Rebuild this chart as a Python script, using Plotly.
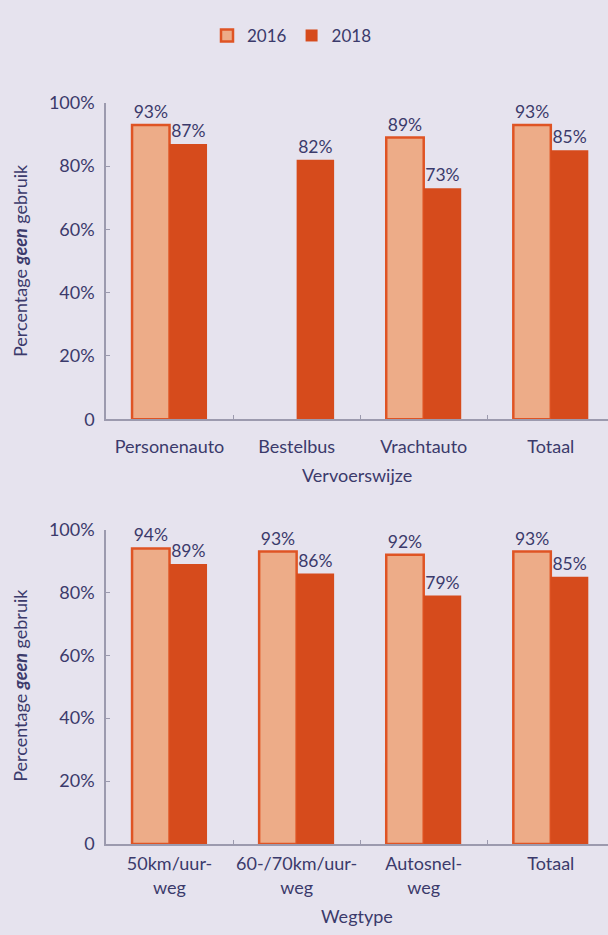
import plotly.graph_objects as go

# Data
vervoer_cats = ["Personenauto", "Bestelbus", "Vrachtauto", "Totaal"]
vervoer_2016 = [93, None, 89, 93]
vervoer_2018 = [87, 82, 73, 85]

weg_cats = ["50km/uur-<br>weg", "60-/70km/uur-<br>weg", "Autosnel-<br>weg", "Totaal"]
weg_2016 = [94, 93, 92, 93]
weg_2018 = [89, 86, 79, 85]

y_tickvals = [0, 20, 40, 60, 80, 100]
y_ticktext = ["0", "20%", "40%", "60%", "80%", "100%"]

BG = "#e6e3ee"
NAVY = "#3b3a6b"
C16 = "#edac88"
C16_LINE = "#df5424"
C18 = "#d64b1c"
AXIS = "#9c9aae"
FONT = "Lato"
FS = 18

W, H = 608, 935

def py(px):
    return 1 - px / H

fig = go.Figure()

def labels(vals):
    return [f"{v}%" if v is not None else "" for v in vals]

for cats, v16, v18, xa, ya, show in [
    (vervoer_cats, vervoer_2016, vervoer_2018, "x", "y", True),
    (weg_cats, weg_2016, weg_2018, "x2", "y2", False),
]:
    fig.add_trace(go.Bar(
        x=cats, y=v16, name="2016", xaxis=xa, yaxis=ya,
        marker=dict(color=C16, line=dict(color=C16_LINE, width=2.5)),
        text=labels(v16), textposition="outside", cliponaxis=False,
        textfont=dict(color=NAVY, size=17.5, family=FONT),
        showlegend=show, legendgroup="2016",
    ))
    fig.add_trace(go.Bar(
        x=cats, y=v18, name="2018", xaxis=xa, yaxis=ya,
        marker=dict(color=C18, line=dict(color=C18, width=0)),
        text=labels(v18), textposition="outside", cliponaxis=False,
        textfont=dict(color=NAVY, size=17.5, family=FONT),
        showlegend=show, legendgroup="2018",
    ))

xcommon = dict(
    domain=[106 / W, 1.0], range=[-0.5, 3.45], type="category",
    showline=True, linecolor=AXIS, linewidth=1.5,
    ticks="inside", tickson="boundaries", ticklen=4, tickcolor=AXIS,
    tickfont=dict(color=NAVY, size=FS, family=FONT), tickangle=0,
    showgrid=False, zeroline=False, fixedrange=True,
)
ycommon = dict(
    range=[0, 100], showline=True, linecolor=AXIS, linewidth=1.5,
    ticks="inside", ticklen=4, tickcolor=AXIS,
    tickvals=y_tickvals, ticktext=y_ticktext,
    tickfont=dict(color=NAVY, size=FS, family=FONT),
    showgrid=False, zeroline=False, ticklabelstandoff=6, fixedrange=True,
)

fig.update_layout(
    width=W, height=H,
    paper_bgcolor=BG, plot_bgcolor=BG,
    margin=dict(l=0, r=0, t=0, b=0),
    barmode="group", bargap=0.41, bargroupgap=0,
    font=dict(family=FONT, color=NAVY, size=FS),
    xaxis=dict(**xcommon, anchor="y", ticklabelstandoff=10),
    yaxis=dict(**ycommon, domain=[py(417), py(93)], anchor="x"),
    xaxis2=dict(**xcommon, anchor="y2", ticklabelstandoff=3),
    yaxis2=dict(**ycommon, domain=[py(852), py(530)], anchor="x2"),
    legend=dict(orientation="h", x=292 / W, xanchor="center", y=py(24.5), yanchor="middle",
                font=dict(color=NAVY, size=17, family=FONT), bgcolor="rgba(0,0,0,0)",
                itemwidth=30, traceorder="normal"),
    showlegend=True,
    annotations=[
        dict(text="Vervoerswijze", x=(106 + 608) / 2 / W, y=py(474), xref="paper", yref="paper",
             showarrow=False, font=dict(color=NAVY, size=FS, family=FONT), yanchor="middle"),
        dict(text="Wegtype", x=(106 + 608) / 2 / W, y=py(926), xref="paper", yref="paper",
             showarrow=False, font=dict(color=NAVY, size=FS, family=FONT), yanchor="middle"),
        dict(text="Percentage <b><i>geen</i></b> gebruik", x=20 / W, y=py(255), xref="paper", yref="paper",
             showarrow=False, textangle=-90, font=dict(color=NAVY, size=FS, family=FONT),
             xanchor="center", yanchor="middle"),
        dict(text="Percentage <b><i>geen</i></b> gebruik", x=20 / W, y=py(690), xref="paper", yref="paper",
             showarrow=False, textangle=-90, font=dict(color=NAVY, size=FS, family=FONT),
             xanchor="center", yanchor="middle"),
    ],
)

fig.write_html(
    "out.html",
    config={"displayModeBar": False},
    post_script="document.body.style.margin='0';document.body.style.overflow='hidden';",
)
